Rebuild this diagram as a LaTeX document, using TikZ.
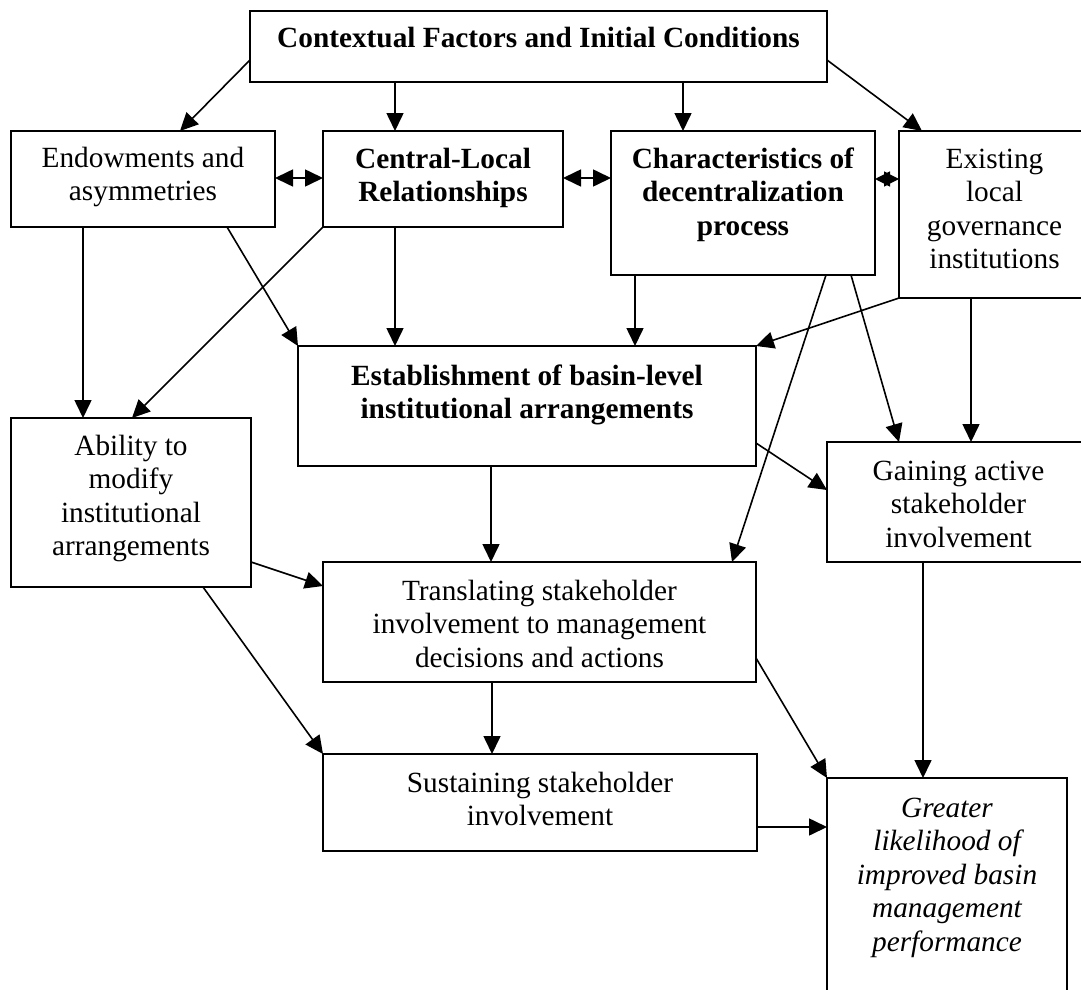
\documentclass[tikz,border=0pt]{standalone}
\usepackage{fontspec}
\setmainfont{Liberation Serif}
\usetikzlibrary{arrows.meta}
\newcommand{\bxtext}[4]{\parbox[t][#2][t]{#1}{\centering\rule{0pt}{#3}#4}}
\tikzset{
  box/.style={draw, line width=2pt, inner sep=0pt, outer sep=0pt, anchor=north west,
    font=\fontsize{29.3pt}{33.5pt}\selectfont},
  tipa/.tip={Triangle[length=18pt 0 0,width=17pt 0 0]},
  tipb/.tip={Triangle[length=15pt 0 0,width=15pt 0 0]},
  arr/.style={-tipa, line width=1.6pt},
  darr/.style={tipa-tipa, line width=1.6pt},
  sarr/.style={tipb-tipb, line width=1.6pt}
}
\begin{document}
\begin{tikzpicture}[x=1pt,y=-1pt]
\useasboundingbox (0,0) rectangle (1081,990);
\fill[white] (0,0) rectangle (1081,990);
% boxes
\node[box] (top) at (250,11) {\bxtext{577pt}{71pt}{37pt}{\textbf{Contextual Factors and Initial Conditions}}};
\node[box] (endow) at (11,131) {\bxtext{264pt}{96pt}{36pt}{Endowments and\\asymmetries}};
\node[box] (central) at (323,131) {\bxtext{240pt}{96pt}{37pt}{\textbf{Central-Local}\\\textbf{Relationships}}};
\node[box] (charac) at (611,131) {\bxtext{264pt}{144pt}{37pt}{\textbf{Characteristics of}\\\textbf{decentralization}\\\textbf{process}}};
\node[box] (exist) at (899,131) {\bxtext{191pt}{167pt}{37pt}{Existing\\local\\governance\\institutions}};
\node[box] (estab) at (298,346) {\bxtext{458pt}{120pt}{39pt}{\textbf{Establishment of basin-level}\\\textbf{institutional arrangements}}};
\node[box] (ability) at (11,418) {\bxtext{240pt}{169pt}{37pt}{Ability to\\modify\\institutional\\arrangements}};
\node[box] (gain) at (827,442) {\bxtext{263pt}{120pt}{38pt}{Gaining active\\stakeholder\\involvement}};
\node[box] (trans) at (323,562) {\bxtext{433pt}{120pt}{38pt}{Translating stakeholder\\involvement to management\\decisions and actions}};
\node[box] (sustain) at (323,754) {\bxtext{434pt}{97pt}{38pt}{Sustaining stakeholder\\involvement}};
\node[box] (greater) at (827,778) {\bxtext{240pt}{227pt}{39pt}{\itshape Greater\\likelihood of\\improved basin\\management\\performance}};
% connectors
\draw[arr] ([yshift=-49pt]top.north west) -- ([xshift=169pt]endow.north west);
\draw[arr] ([xshift=145pt]top.south west) -- ([xshift=72pt]central.north west);
\draw[arr] ([xshift=433pt]top.south west) -- ([xshift=72pt]charac.north west);
\draw[arr] ([yshift=-49pt]top.north east) -- ([xshift=23pt]exist.north west);
\draw[darr] ([yshift=-47pt]endow.north east) -- ([yshift=-47pt]central.north west);
\draw[darr] ([yshift=-47pt]central.north east) -- ([yshift=-47pt]charac.north west);
\draw[sarr] ([yshift=-48pt]charac.north east) -- ([yshift=-48pt]exist.north west);
\draw[arr] ([xshift=72pt]endow.south west) -- ([xshift=72pt]ability.north west);
\draw[arr] ([xshift=216pt]endow.south west) -- (estab.north west);
\draw[arr] (central.south west) -- ([xshift=121pt]ability.north west);
\draw[arr] ([xshift=72pt]central.south west) -- ([xshift=97pt]estab.north west);
\draw[arr] ([xshift=24pt]charac.south west) -- ([xshift=337pt]estab.north west);
\draw[arr] (exist.south west) -- (estab.north east);
\draw[arr] ([xshift=215pt]charac.south west) -- ([xshift=409pt]trans.north west);
\draw[arr] ([xshift=240pt]charac.south west) -- ([xshift=72pt]gain.north west);
\draw[arr] ([xshift=72pt]exist.south west) -- ([xshift=144pt]gain.north west);
\draw[arr] ([yshift=-97pt]estab.north east) -- ([yshift=-48pt]gain.north west);
\draw[arr] ([xshift=193pt]estab.south west) -- ([xshift=168pt]trans.north west);
\draw[arr] ([yshift=-144pt]ability.north east) -- ([yshift=-24pt]trans.north west);
\draw[arr] ([xshift=192pt]ability.south west) -- (sustain.north west);
\draw[arr] ([xshift=169pt]trans.south west) -- ([xshift=169pt]sustain.north west);
\draw[arr] ([yshift=-96pt]trans.north east) -- (greater.north west);
\draw[arr] ([xshift=96pt]gain.south west) -- ([xshift=96pt]greater.north west);
\draw[arr] ([yshift=-73pt]sustain.north east) -- ([yshift=-49pt]greater.north west);
\end{tikzpicture}
\end{document}
